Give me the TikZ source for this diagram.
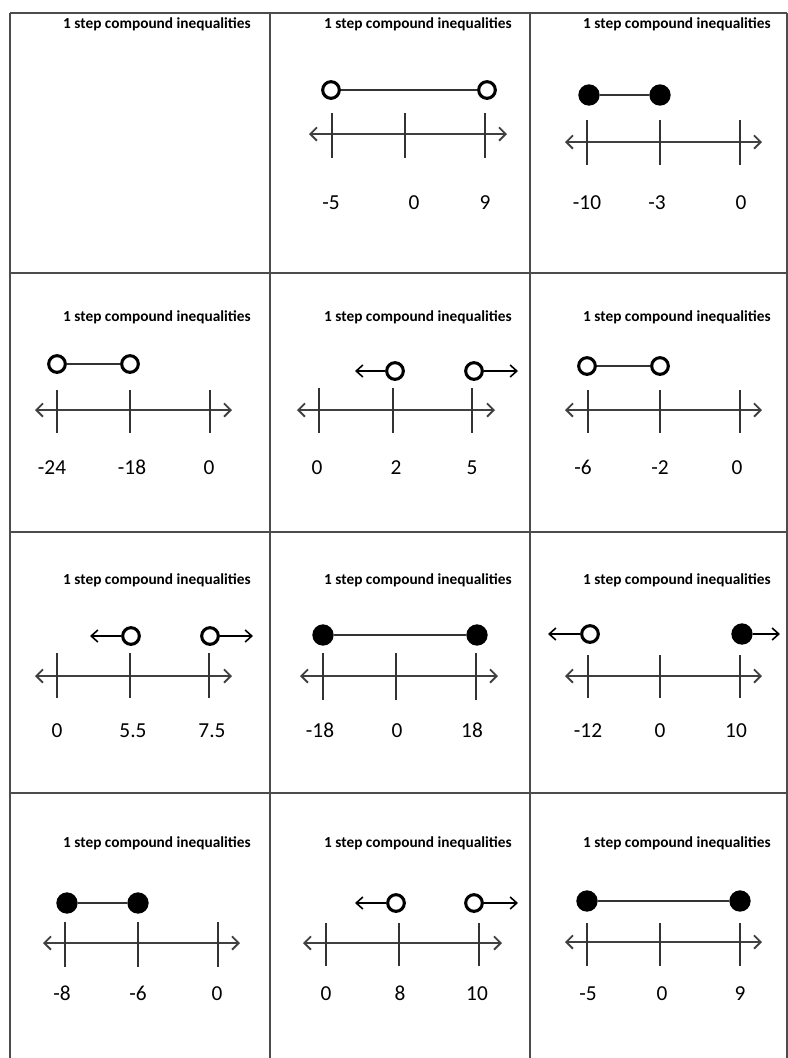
\documentclass[tikz,border=0pt]{standalone}
\usepackage{fontspec}
\setmainfont{Carlito}
\usetikzlibrary{arrows.meta}
\tikzset{
    gridline/.style={draw=black!70, line width=1.6pt},
    title/.style={font=\fontsize{11.5}{13}\selectfont\bfseries, anchor=east, inner sep=0pt},
    numlabel/.style={font=\fontsize{16}{19}\selectfont, inner sep=0pt, text height=11pt, text depth=0pt},
    numline/.style={{Straight Barb[length=5pt,width=10pt]}-{Straight Barb[length=5pt,width=10pt]}, line width=1.4pt, draw=black!75},
    tickmark/.style={line width=1.5pt, draw=black!80},
    opendot/.style={circle, draw, line width=2.3pt, fill=white, minimum size=12.5pt, inner sep=0pt},
    filldot/.style={circle, fill=black, minimum size=16pt, inner sep=0pt},
    segment/.style={line width=1.5pt, draw=black!80},
    ray/.style={-{Straight Barb[length=5pt,width=9pt]}, line width=1.2pt},
}

\begin{document}
\begin{tikzpicture}[x=0.75pt, y=-0.75pt]
    \useasboundingbox (0,0) rectangle (788,1058);
    % grid of cells
    \foreach \x in {10,270,530,787} \draw[gridline] (\x,13) -- (\x,1058);
    \foreach \y in {13,273,532,793} \draw[gridline] (10,\y) -- (787,\y);

    % titles
    \foreach \y in {24,317,580,843}
        \foreach \x in {251,512,771}
            \node[title] at (\x,\y) {1 step compound inequalities};

    % row 1, cell 2
    \node[opendot] (p12a) at (331,90) {};
    \node[opendot] (p12b) at (487,90) {};
    \draw[segment] (p12a) -- (p12b);
    \draw[numline] (309,134) -- (507,134);
    \foreach \x in {332,405,485} \draw[tickmark] (\x,113) -- (\x,158);
    \node[numlabel] (n12a) at (331,202) {-5};
    \node[numlabel] (n12b) at (414,202) {0};
    \node[numlabel] (n12c) at (485,202) {9};

    % row 1, cell 3
    \node[filldot] (p13a) at (589,95) {};
    \node[filldot] (p13b) at (660,95) {};
    \draw[segment] (p13a) -- (p13b);
    \draw[numline] (565,142) -- (762,142);
    \foreach \x in {587,660,740} \draw[tickmark] (\x,120) -- (\x,165);
    \node[numlabel] (n13a) at (587,202) {-10};
    \node[numlabel] (n13b) at (657,202) {-3};
    \node[numlabel] (n13c) at (741,202) {0};

    % row 2, cell 1
    \node[opendot] (p21a) at (57,364) {};
    \node[opendot] (p21b) at (130,364) {};
    \draw[segment] (p21a) -- (p21b);
    \draw[numline] (35,410) -- (232,410);
    \foreach \x in {57,130,210} \draw[tickmark] (\x,390) -- (\x,433);
    \node[numlabel] (n21a) at (52,467) {-24};
    \node[numlabel] (n21b) at (132,467) {-18};
    \node[numlabel] (n21c) at (209,467) {0};

    % row 2, cell 2
    \node[opendot] (p22a) at (395,371) {};
    \node[opendot] (p22b) at (474,371) {};
    \coordinate (e22a) at (355,371);
    \coordinate (e22b) at (518,371);
    \draw[ray] (p22a) -- (e22a);
    \draw[ray] (p22b) -- (e22b);
    \draw[numline] (297,410) -- (495,410);
    \foreach \x in {319,393,472} \draw[tickmark] (\x,388) -- (\x,433);
    \node[numlabel] (n22a) at (317,467) {0};
    \node[numlabel] (n22b) at (396,467) {2};
    \node[numlabel] (n22c) at (472,467) {5};

    % row 2, cell 3
    \node[opendot] (p23a) at (587,366) {};
    \node[opendot] (p23b) at (660,366) {};
    \draw[segment] (p23a) -- (p23b);
    \draw[numline] (565,410) -- (762,410);
    \foreach \x in {588,660,740} \draw[tickmark] (\x,390) -- (\x,433);
    \node[numlabel] (n23a) at (583,467) {-6};
    \node[numlabel] (n23b) at (660,467) {-2};
    \node[numlabel] (n23c) at (737,467) {0};

    % row 3, cell 1
    \node[opendot] (p31a) at (131,636) {};
    \node[opendot] (p31b) at (210,636) {};
    \coordinate (e31a) at (90,636);
    \coordinate (e31b) at (253,636);
    \draw[ray] (p31a) -- (e31a);
    \draw[ray] (p31b) -- (e31b);
    \draw[numline] (35,676) -- (232,676);
    \foreach \x in {57,130,209} \draw[tickmark] (\x,653) -- (\x,698);
    \node[numlabel] (n31a) at (57,730) {0};
    \node[numlabel] (n31b) at (133,730) {5.5};
    \node[numlabel] (n31c) at (212,730) {7.5};

    % row 3, cell 2
    \node[filldot] (p32a) at (323,635) {};
    \node[filldot] (p32b) at (477,635) {};
    \draw[segment] (p32a) -- (p32b);
    \draw[numline] (300,676) -- (498,676);
    \foreach \x in {323,396,476} \draw[tickmark] (\x,653) -- (\x,700);
    \node[numlabel] (n32a) at (320,730) {-18};
    \node[numlabel] (n32b) at (397,730) {0};
    \node[numlabel] (n32c) at (472,730) {18};

    % row 3, cell 3
    \node[opendot] (p33a) at (590,634) {};
    \node[filldot] (p33b) at (742,634) {};
    \coordinate (e33a) at (548,634);
    \coordinate (e33b) at (780,634);
    \draw[ray] (p33a) -- (e33a);
    \draw[ray] (p33b) -- (e33b);
    \draw[numline] (565,676) -- (762,676);
    \foreach \x in {588,660,740} \draw[tickmark] (\x,655) -- (\x,698);
    \node[numlabel] (n33a) at (588,730) {-12};
    \node[numlabel] (n33b) at (660,730) {0};
    \node[numlabel] (n33c) at (736,730) {10};

    % row 4, cell 1
    \node[filldot] (p41a) at (67,903) {};
    \node[filldot] (p41b) at (138,903) {};
    \draw[segment] (p41a) -- (p41b);
    \draw[numline] (43,943) -- (240,943);
    \foreach \x in {65,138,218} \draw[tickmark] (\x,922) -- (\x,967);
    \node[numlabel] (n41a) at (62,993) {-8};
    \node[numlabel] (n41b) at (138,993) {-6};
    \node[numlabel] (n41c) at (217,993) {0};

    % row 4, cell 2
    \node[opendot] (p42a) at (396,903) {};
    \node[opendot] (p42b) at (474,903) {};
    \coordinate (e42a) at (355,903);
    \coordinate (e42b) at (518,903);
    \draw[ray] (p42a) -- (e42a);
    \draw[ray] (p42b) -- (e42b);
    \draw[numline] (303,943) -- (502,943);
    \foreach \x in {326,399,479} \draw[tickmark] (\x,923) -- (\x,966);
    \node[numlabel] (n42a) at (326,993) {0};
    \node[numlabel] (n42b) at (400,993) {8};
    \node[numlabel] (n42c) at (477,993) {10};

    % row 4, cell 3
    \node[filldot] (p43a) at (587,901) {};
    \node[filldot] (p43b) at (740,901) {};
    \draw[segment] (p43a) -- (p43b);
    \draw[numline] (565,942) -- (762,942);
    \foreach \x in {587,660,740} \draw[tickmark] (\x,923) -- (\x,966);
    \node[numlabel] (n43a) at (588,993) {-5};
    \node[numlabel] (n43b) at (662,993) {0};
    \node[numlabel] (n43c) at (740,993) {9};
\end{tikzpicture}
\end{document}
